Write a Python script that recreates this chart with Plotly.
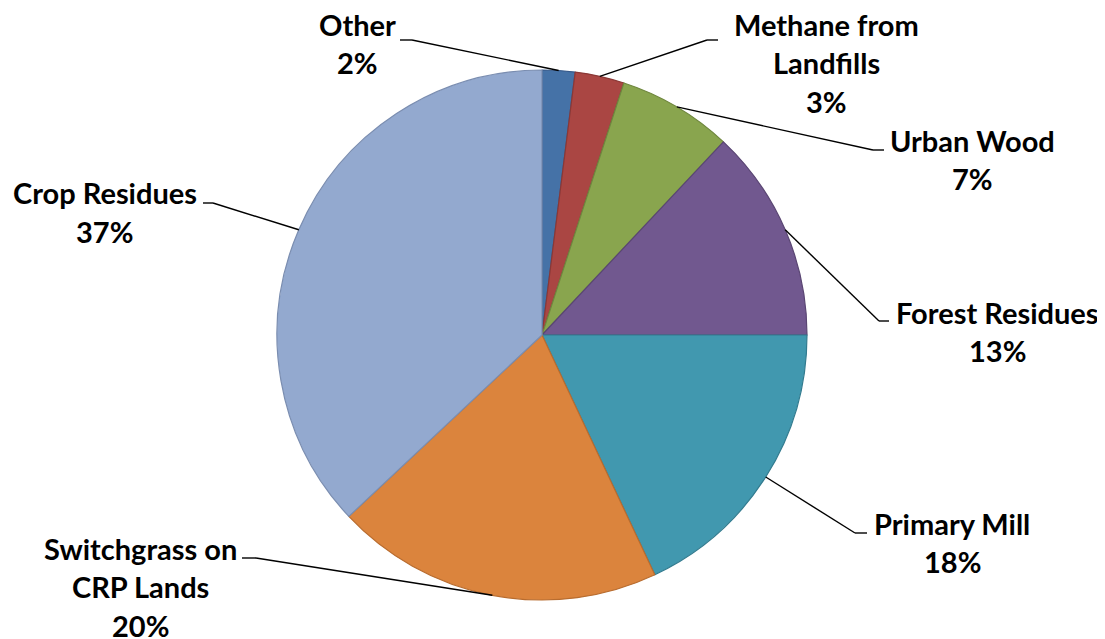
import math
import plotly.graph_objects as go

# ---- data ----
categories = ["Other", "Methane from Landfills", "Urban Wood", "Forest Residues",
              "Primary Mill", "Switchgrass on CRP Lands", "Crop Residues"]
label_lines = [["Other"], ["Methane from", "Landfills"], ["Urban Wood"], ["Forest Residues"],
               ["Primary Mill"], ["Switchgrass on", "CRP Lands"], ["Crop Residues"]]
values = [2, 3, 7, 13, 18, 20, 37]

colors = ["#4572A7", "#AA4643", "#89A54E", "#71588F", "#4198AF", "#DB843D", "#93A9CF"]
edge_colors = ["#36598A", "#8B3836", "#6F873E", "#5A4673", "#327B8F", "#B86C2F", "#7A8DB0"]

W, H = 1105, 639
OFF = 8  # page body margin in px
CX, CY, R = 542, 335, 265  # pie centre / radius in screen px (layout)

# label layout: (text centre x, first line y, elbow x, elbow y, end x)
label_layout = [
    (357, 24, 412, 40, 400),
    (826, 24, 707, 40, 718),
    (972, 140, 873, 150, 884),
    (997, 312, 879, 321, 889),
    (952, 523, 855, 533, 867),
    (140, 548, 256, 558, 242),
    (105, 193, 213, 203, 203),
]
LINE_H = 38.5

def px(x):
    return (x - OFF) / W

def py(y):
    return 1 - (y - OFF) / H

fig = go.Figure(go.Pie(
    labels=categories,
    values=values,
    sort=False,
    direction="clockwise",
    rotation=0,
    textinfo="none",
    hoverinfo="label+percent",
    marker=dict(colors=colors, line=dict(color=edge_colors, width=1.2)),
    domain=dict(x=[px(CX - R), px(CX + R)], y=[py(CY + R), py(CY - R)]),
    showlegend=False,
))

total = sum(values)
cum = 0
annotations = []
shapes = []
font = dict(family="Lato, Open Sans, sans-serif", size=29, color="#000000")
for i, v in enumerate(values):
    theta = 2 * math.pi * (cum + v / 2) / total
    cum += v
    ax = CX + R * math.sin(theta)
    ay = CY - R * math.cos(theta)
    tx, ty, ex, ey, endx = label_layout[i]
    shapes.append(dict(type="line", xref="paper", yref="paper",
                       x0=px(ax), y0=py(ay), x1=px(ex), y1=py(ey),
                       line=dict(color="black", width=1.4)))
    shapes.append(dict(type="line", xref="paper", yref="paper",
                       x0=px(ex), y0=py(ey), x1=px(endx), y1=py(ey),
                       line=dict(color="black", width=1.4)))
    pct = round(100 * v / total)
    lines = label_lines[i] + [f"{pct}%"]
    for k, t in enumerate(lines):
        annotations.append(dict(text=f"<b>{t}</b>", x=px(tx), y=py(ty + k * LINE_H),
                                xref="paper", yref="paper", xanchor="center",
                                yanchor="middle", showarrow=False, font=font))

fig.update_layout(
    width=W, height=H,
    margin=dict(l=0, r=0, t=0, b=0),
    paper_bgcolor="white",
    plot_bgcolor="white",
    annotations=annotations,
    shapes=shapes,
)

fig.write_html("out.html")
